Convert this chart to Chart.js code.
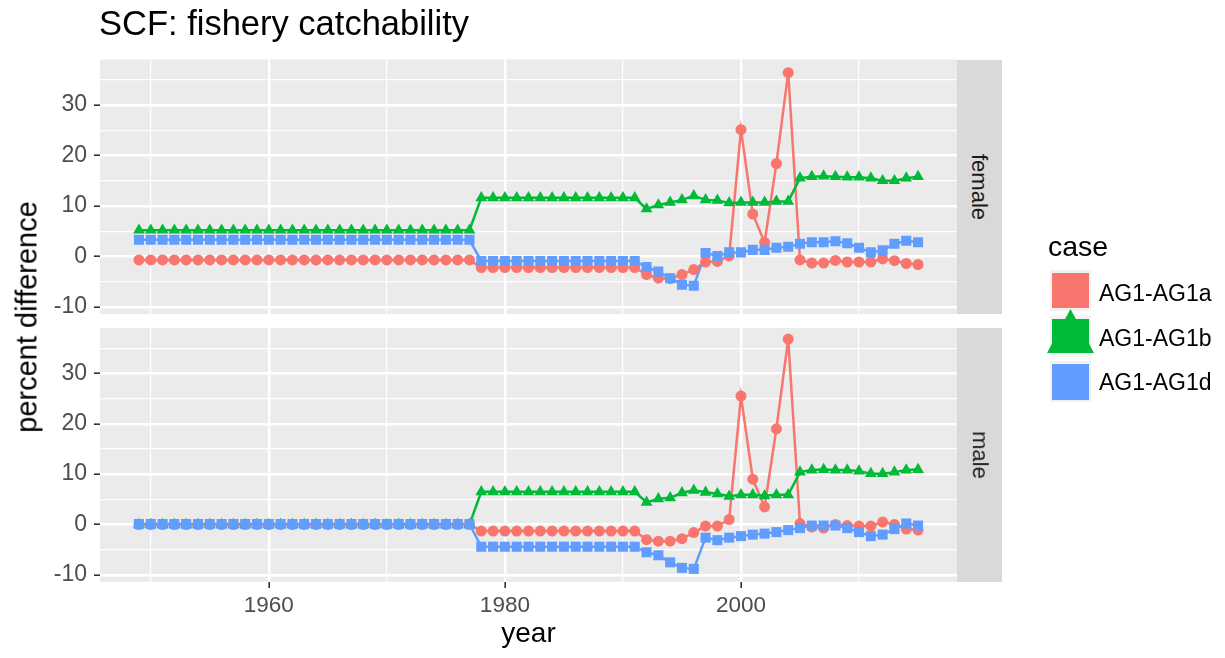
<!DOCTYPE html>
<html><head><meta charset="utf-8">
<script src="https://cdn.jsdelivr.net/npm/chart.js@4.4.0/dist/chart.umd.min.js"></script>
<style>
html,body{margin:0;padding:0;background:#fff;}
#wrap{position:relative;width:1225px;height:658px;overflow:hidden;font-family:"Liberation Sans",Arial,Helvetica,sans-serif;}
canvas{position:absolute;left:0;top:0;}
.t{position:absolute;white-space:nowrap;}
.strip{position:absolute;background:#D9D9D9;display:flex;align-items:center;justify-content:center;}
.strip span{display:block;transform:rotate(90deg);font-size:22px;color:#1A1A1A;line-height:22px;white-space:nowrap;}
</style></head><body>
<div id="wrap">
<canvas id="cf" width="1225" height="658"></canvas>
<canvas id="cm" width="1225" height="658"></canvas>
<div class="t" style="left:99px;top:6px;font-size:34.5px;line-height:34.5px;color:#000;">SCF: fishery catchability</div>
<div class="t" style="left:27px;top:317px;font-size:29px;line-height:29px;color:#000;transform:translate(-50%,-50%) rotate(-90deg);">percent difference</div>
<div class="t" style="left:528.5px;top:619px;font-size:28px;line-height:28px;color:#000;transform:translateX(-50%);">year</div>
<div class="strip" style="left:957px;top:59.5px;width:45px;height:254.5px;"><span>female</span></div>
<div class="strip" style="left:957px;top:328px;width:45px;height:254px;"><span>male</span></div>
<div class="t" style="left:1048px;top:232px;font-size:28.5px;line-height:28.5px;color:#000;">case</div>
<svg class="t" style="left:1040px;top:265px;" width="62" height="145" viewBox="1040 265 62 145">
  <rect x="1050" y="270" width="41" height="41" fill="#F2F2F2"/>
  <rect x="1050" y="315.5" width="41" height="41" fill="#F2F2F2"/>
  <rect x="1050" y="361" width="41" height="41" fill="#F2F2F2"/>
  <rect x="1052" y="273" width="37" height="35" fill="#F8766D"/>
  <rect x="1052" y="319" width="37" height="34" fill="#00BA38"/>
  <polygon points="1070.5,309 1094,353 1047,353" fill="#00BA38"/>
  <rect x="1052" y="364" width="37" height="36" fill="#619CFF"/>
</svg>
<div class="t" style="left:1099px;top:281.5px;font-size:23px;line-height:23px;color:#000;">AG1-AG1a</div>
<div class="t" style="left:1099px;top:326.5px;font-size:23px;line-height:23px;color:#000;">AG1-AG1b</div>
<div class="t" style="left:1099px;top:370.5px;font-size:23px;line-height:23px;color:#000;">AG1-AG1d</div>
</div>
<script>
const years = [1949,1950,1951,1952,1953,1954,1955,1956,1957,1958,1959,1960,1961,1962,1963,1964,1965,1966,1967,1968,1969,1970,1971,1972,1973,1974,1975,1976,1977,
1978,1979,1980,1981,1982,1983,1984,1985,1986,1987,1988,1989,1990,1991,
1992,1993,1994,1995,1996,1997,1998,1999,2000,2001,2002,2003,2004,2005,2006,2007,2008,2009,2010,2011,2012,2013,2014,2015];

const femaleA = [-0.7,-0.7,-0.7,-0.7,-0.7,-0.7,-0.7,-0.7,-0.7,-0.7,-0.7,-0.7,-0.7,-0.7,-0.7,-0.7,-0.7,-0.7,-0.7,-0.7,-0.7,-0.7,-0.7,-0.7,-0.7,-0.7,-0.7,-0.7,-0.7,
-2.2,-2.2,-2.2,-2.2,-2.2,-2.2,-2.2,-2.2,-2.2,-2.2,-2.2,-2.2,-2.2,-2.2,
-3.6,-4.3,-4.4,-3.6,-2.6,-1.1,-1.0,0.1,25.1,8.4,2.8,18.4,36.4,-0.7,-1.3,-1.3,-0.8,-1.1,-1.1,-1.1,-0.5,-0.85,-1.4,-1.6];
const femaleB = [5.2,5.2,5.2,5.2,5.2,5.2,5.2,5.2,5.2,5.2,5.2,5.2,5.2,5.2,5.2,5.2,5.2,5.2,5.2,5.2,5.2,5.2,5.2,5.2,5.2,5.2,5.2,5.2,5.2,
11.6,11.6,11.6,11.6,11.6,11.6,11.6,11.6,11.6,11.6,11.6,11.6,11.6,11.6,
9.4,10.2,10.7,11.2,12.0,11.2,11.1,10.6,10.7,10.7,10.7,10.9,10.9,15.5,15.8,15.9,15.8,15.7,15.7,15.5,15.0,15.0,15.5,15.8];
const femaleD = [3.3,3.3,3.3,3.3,3.3,3.3,3.3,3.3,3.3,3.3,3.3,3.3,3.3,3.3,3.3,3.3,3.3,3.3,3.3,3.3,3.3,3.3,3.3,3.3,3.3,3.3,3.3,3.3,3.3,
-0.9,-0.9,-0.9,-0.9,-0.9,-0.9,-0.9,-0.9,-0.9,-0.9,-0.9,-0.9,-0.9,-0.9,
-2.1,-3.0,-4.3,-5.6,-5.8,0.7,0.1,0.8,0.8,1.3,1.3,1.7,1.9,2.5,2.8,2.8,3.0,2.6,1.7,0.8,1.2,2.5,3.1,2.8];

const maleA = [0,0,0,0,0,0,0,0,0,0,0,0,0,0,0,0,0,0,0,0,0,0,0,0,0,0,0,0,0,
-1.3,-1.3,-1.3,-1.3,-1.3,-1.3,-1.3,-1.3,-1.3,-1.3,-1.3,-1.3,-1.3,-1.3,
-3.0,-3.3,-3.3,-2.8,-1.6,-0.3,-0.3,1.0,25.5,9.0,3.5,19.0,36.8,0.2,-0.5,-0.7,0.0,-0.2,-0.3,-0.3,0.5,0.0,-0.9,-1.1];
const maleB = [0,0,0,0,0,0,0,0,0,0,0,0,0,0,0,0,0,0,0,0,0,0,0,0,0,0,0,0,0,
6.5,6.5,6.5,6.5,6.5,6.5,6.5,6.5,6.5,6.5,6.5,6.5,6.5,6.5,
4.4,5.1,5.3,6.3,6.8,6.4,6.1,5.6,5.9,5.9,5.7,5.9,5.9,10.4,10.8,10.9,10.8,10.8,10.6,10.1,10.1,10.4,10.8,10.9];
const maleD = [0.1,0.1,0.1,0.1,0.1,0.1,0.1,0.1,0.1,0.1,0.1,0.1,0.1,0.1,0.1,0.1,0.1,0.1,0.1,0.1,0.1,0.1,0.1,0.1,0.1,0.1,0.1,0.1,0.1,
-4.4,-4.4,-4.4,-4.4,-4.4,-4.4,-4.4,-4.4,-4.4,-4.4,-4.4,-4.4,-4.4,-4.4,
-5.5,-6.1,-7.5,-8.6,-8.8,-2.6,-3.1,-2.6,-2.3,-2.0,-1.8,-1.5,-1.1,-0.7,-0.2,-0.2,-0.2,-0.7,-1.5,-2.3,-2.0,-0.9,0.2,-0.2];

const caseNames = ['AG1-AG1a','AG1-AG1b','AG1-AG1d'];
const xGridTicks = [1950,1960,1970,1980,1990,2000,2010];
const xLabelTicks = [1960,1980,2000];
const yGridTicks = [-10,-5,0,5,10,15,20,25,30,35];
const yLabelTicks = [-10,0,10,20,30];

const COLORS = ['#F8766D','#00BA38','#619CFF'];
const STYLES = ['circle','triangle','rect'];
const RADII = [5.5,6.8,7.1];
const FONT = '"Liberation Sans", Arial, Helvetica, sans-serif';

const bgPlugin = {
  id: 'panelBg',
  beforeDraw(chart) {
    const a = chart.chartArea, c = chart.ctx;
    c.save(); c.fillStyle = '#EBEBEB';
    c.fillRect(a.left, a.top, a.right - a.left, a.bottom - a.top);
    c.restore();
  }
};

function makePanel(id, series, padTop, padBottom, showX) {
  const datasets = [];
  series.forEach((vals, k) => {
    datasets.push({
      label: caseNames[k] + ' line', data: years.map((y, i) => ({x: y, y: vals[i]})),
      borderColor: COLORS[k], backgroundColor: COLORS[k], borderWidth: 2.5,
      showLine: true, pointRadius: 0, pointHoverRadius: 0, order: 6 - k, tension: 0
    });
  });
  series.forEach((vals, k) => {
    datasets.push({
      label: caseNames[k], data: years.map((y, i) => ({x: y, y: vals[i]})),
      borderColor: COLORS[k], backgroundColor: COLORS[k], borderWidth: 0,
      showLine: false, pointRadius: RADII[k], pointHoverRadius: RADII[k], pointStyle: STYLES[k],
      pointBackgroundColor: COLORS[k], pointBorderWidth: 0, order: 3 - k
    });
  });
  return new Chart(document.getElementById(id), {
    type: 'line',
    data: { datasets },
    plugins: [bgPlugin],
    options: {
      responsive: false, animation: false, devicePixelRatio: 1,
      layout: { autoPadding: false, padding: { left: 0, top: padTop, right: 268, bottom: padBottom } },
      plugins: { legend: { display: false }, tooltip: { enabled: false }, title: { display: false } },
      scales: {
        x: {
          type: 'linear', min: 1945.7, max: 2018.3,
          afterBuildTicks: s => { s.ticks = xGridTicks.map(v => ({ value: v })); },
          afterFit: s => { s.height = showX ? 40 : 0; },
          border: { display: false },
          grid: {
            color: '#FFFFFF',
            lineWidth: c => (c.tick && xLabelTicks.includes(c.tick.value)) ? 2.4 : 1.2,
            drawTicks: showX, tickLength: 6, tickWidth: 1.6,
            tickColor: c => (c.tick && xLabelTicks.includes(c.tick.value)) ? '#333333' : 'rgba(0,0,0,0)'
          },
          ticks: {
            display: showX, autoSkip: false, maxRotation: 0, padding: 4,
            color: '#4D4D4D', font: { family: FONT, size: 22.5 },
            callback: v => xLabelTicks.includes(v) ? String(v) : ''
          }
        },
        y: {
          type: 'linear', min: -11.4, max: 39.0,
          afterBuildTicks: s => { s.ticks = yGridTicks.map(v => ({ value: v })); },
          afterFit: s => { s.width = 100; },
          border: { display: false },
          grid: {
            color: '#FFFFFF',
            lineWidth: c => (c.tick && yLabelTicks.includes(c.tick.value)) ? 2.4 : 1.2,
            drawTicks: true, tickLength: 6, tickWidth: 1.6,
            tickColor: c => (c.tick && yLabelTicks.includes(c.tick.value)) ? '#333333' : 'rgba(0,0,0,0)'
          },
          ticks: {
            autoSkip: false, padding: 7,
            color: '#4D4D4D', font: { family: FONT, size: 23 },
            callback: v => yLabelTicks.includes(v) ? String(v) : ''
          }
        }
      }
    }
  });
}

makePanel('cf', [femaleA, femaleB, femaleD], 59.5, 344, false);
makePanel('cm', [maleA, maleB, maleD], 328, 36, true);
</script>
</body></html>
